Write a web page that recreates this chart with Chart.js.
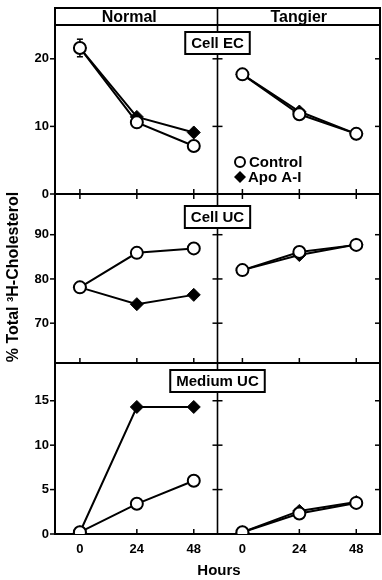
<!DOCTYPE html>
<html>
<head>
<meta charset="utf-8">
<script src="https://cdn.jsdelivr.net/npm/chart.js@4"></script>
<style>
  html, body { margin: 0; padding: 0; background: #fff; }
  canvas { display: block; }
</style>
</head>
<body>
<canvas id="chart" width="382" height="580"></canvas>
<script>
// Time points (hours) and axis ticks.
const hours = [0, 24, 48];
const groups = ['Normal', 'Tangier'];
const panelNames = ['Cell EC', 'Cell UC', 'Medium UC'];
const seriesNames = ['Control', 'Apo A-I'];
const ecTicks = [0, 10, 20];
const ucTicks = [70, 80, 90];
const mediumTicks = [0, 5, 10, 15];

// % of total 3H-cholesterol per compartment.
const ecNormalControl = [21.6, 10.6, 7.1];
const ecNormalControlErr = [1.3, 0, 0];
const ecNormalApo = [21.6, 11.4, 9.1];
const ecTangierControl = [17.7, 11.8, 8.9];
const ecTangierApo = [17.7, 12.2, 8.9];

const ucNormalControl = [78.1, 85.9, 86.9];
const ucNormalApo = [78.1, 74.3, 76.4];
const ucTangierControl = [82.0, 86.1, 87.7];
const ucTangierApo = [82.0, 85.4, 87.8];

const mediumNormalControl = [0.2, 3.4, 6.0];
const mediumNormalApo = [0.2, 14.3, 14.3];
const mediumTangierControl = [0.2, 2.3, 3.5];
const mediumTangierApo = [0.2, 2.6, 3.6];

const FONT = '"Liberation Sans", Arial, sans-serif';
const FRAME_TOP = 8;
const FRAME_RIGHT = 380;

const panels = [
  { axis: 'yEc', ticks: ecTicks, normal: [ecNormalControl, ecNormalApo], tangier: [ecTangierControl, ecTangierApo] },
  { axis: 'yUc', ticks: ucTicks, normal: [ucNormalControl, ucNormalApo], tangier: [ucTangierControl, ucTangierApo] },
  { axis: 'yMed', ticks: mediumTicks, normal: [mediumNormalControl, mediumNormalApo], tangier: [mediumTangierControl, mediumTangierApo] },
];

const pts = vals => hours.map((h, i) => ({ x: h, y: vals[i] }));

function makeDataset(vals, s, xAxisID, yAxisID) {
  const control = s === 0;
  return {
    label: seriesNames[s],
    data: pts(vals),
    xAxisID, yAxisID,
    order: control ? 0 : 1,
    borderColor: '#000',
    borderWidth: 2,
    backgroundColor: control ? '#fff' : '#000',
    pointBackgroundColor: control ? '#fff' : '#000',
    pointBorderColor: '#000',
    pointBorderWidth: control ? 2 : 1,
    pointStyle: control ? 'circle' : 'rectRot',
    pointRadius: control ? 6 : 6.5,
    tension: 0,
  };
}

const datasets = [];
panels.forEach(p => {
  [0, 1].forEach(s => {
    datasets.push(makeDataset(p.normal[s], s, 'xNormal', p.axis));
    datasets.push(makeDataset(p.tangier[s], s, 'xTangier', p.axis));
  });
});

const xAxis = () => ({
  type: 'linear',
  position: 'bottom',
  stack: 'cols',
  stackWeight: 1,
  min: -10.5,
  max: 58,
  grid: { display: false, drawTicks: false },
  border: { display: false },
  ticks: { color: '#000', padding: 8, font: { family: FONT, size: 13, weight: 'bold' }, maxRotation: 0, autoSkip: false },
  afterBuildTicks: s => { s.ticks = hours.map(v => ({ value: v })); },
  afterFit: s => { s.height = 46; s.paddingLeft = 0; s.paddingRight = 0; },
});

const yAxis = (min, max, weight, ticks) => ({
  type: 'linear',
  position: 'left',
  stack: 'rows',
  stackWeight: weight,
  min, max,
  grid: { display: false, drawTicks: false },
  border: { display: false },
  ticks: { color: '#000', padding: 6, font: { family: FONT, size: 13, weight: 'bold' }, autoSkip: false },
  afterBuildTicks: s => { s.ticks = ticks.map(v => ({ value: v })); },
  afterFit: s => { s.width = 55; s.paddingTop = 0; s.paddingBottom = 0; },
});

function line(ctx, x1, y1, x2, y2) {
  ctx.beginPath();
  ctx.moveTo(x1, y1);
  ctx.lineTo(x2, y2);
  ctx.stroke();
}

// Frame, panel dividers, tick marks and the error bar go under the data.
const framePlugin = {
  id: 'frame',
  beforeDatasetsDraw(chart) {
    const { ctx, chartArea: a, scales } = chart;
    const mid = scales.xNormal.right;
    ctx.save();
    ctx.strokeStyle = '#000';
    ctx.lineWidth = 2;
    ctx.strokeRect(a.left, FRAME_TOP, a.right - a.left, a.bottom - FRAME_TOP);
    line(ctx, a.left, a.top, a.right, a.top);
    line(ctx, a.left, scales.yEc.bottom, a.right, scales.yEc.bottom);
    line(ctx, a.left, scales.yUc.bottom, a.right, scales.yUc.bottom);
    ctx.lineWidth = 1.6;
    line(ctx, mid, FRAME_TOP, mid, a.bottom);

    ctx.lineWidth = 1.5;
    panels.forEach(p => {
      const ys = scales[p.axis];
      p.ticks.forEach(v => {
        const y = ys.getPixelForValue(v);
        line(ctx, a.left - 5, y, a.left, y);
        line(ctx, mid - 5, y, mid + 5, y);
        line(ctx, a.right - 5, y, a.right, y);
      });
      ['xNormal', 'xTangier'].forEach(id => {
        const xs = scales[id];
        hours.forEach(h => {
          const x = xs.getPixelForValue(h);
          line(ctx, x, ys.bottom - 5, x, p.axis === 'yEc' ? ys.bottom + 5 : ys.bottom);
        });
      });
    });

    // error bars on the normal-cell EC control
    const xs = scales.xNormal, ys = scales.yEc;
    ctx.lineWidth = 1.5;
    ecNormalControlErr.forEach((e, i) => {
      if (!e) return;
      const x = xs.getPixelForValue(hours[i]);
      const y1 = ys.getPixelForValue(ecNormalControl[i] - e);
      const y2 = ys.getPixelForValue(ecNormalControl[i] + e);
      line(ctx, x, y1, x, y2);
      line(ctx, x - 3, y1, x + 3, y1);
      line(ctx, x - 3, y2, x + 3, y2);
    });
    ctx.restore();
  },
  afterDatasetsDraw(chart) {
    const { ctx, chartArea: a, scales } = chart;
    const mid = scales.xNormal.right;
    ctx.save();
    ctx.fillStyle = '#000';
    ctx.strokeStyle = '#000';
    ctx.textBaseline = 'middle';
    ctx.textAlign = 'center';

    // column headers
    ctx.font = `bold 16px ${FONT}`;
    const hy = (FRAME_TOP + a.top) / 2 + 1;
    ctx.fillText(groups[0], (scales.xNormal.left + scales.xNormal.right) / 2 - 7, hy);
    ctx.fillText(groups[1], (scales.xTangier.left + scales.xTangier.right) / 2, hy);

    // boxed panel names straddling the divider
    ctx.font = `bold 15px ${FONT}`;
    const boxOffsets = [7, 12, 7];
    panels.forEach((p, i) => {
      const ys = scales[p.axis];
      const w = ctx.measureText(panelNames[i]).width + 12;
      const h = 22;
      const top = ys.top + boxOffsets[i];
      ctx.fillStyle = '#fff';
      ctx.fillRect(mid - w / 2, top, w, h);
      ctx.lineWidth = 2;
      ctx.strokeRect(mid - w / 2, top, w, h);
      ctx.fillStyle = '#000';
      ctx.fillText(panelNames[i], mid, top + h / 2 + 1);
    });

    // legend
    ctx.textAlign = 'left';
    const lx = 240, ly = [162, 177];
    ctx.beginPath();
    ctx.arc(lx, ly[0], 5, 0, Math.PI * 2);
    ctx.fillStyle = '#fff';
    ctx.fill();
    ctx.lineWidth = 2;
    ctx.stroke();
    ctx.fillStyle = '#000';
    ctx.beginPath();
    ctx.moveTo(lx, ly[1] - 6);
    ctx.lineTo(lx + 6, ly[1]);
    ctx.lineTo(lx, ly[1] + 6);
    ctx.lineTo(lx - 6, ly[1]);
    ctx.closePath();
    ctx.fill();
    ctx.fillText(seriesNames[0], lx + 9, ly[0] + 1);
    ctx.fillText(seriesNames[1], lx + 8, ly[1] + 1);

    // axis titles
    ctx.textAlign = 'center';
    ctx.fillText('Hours', 219, 571);
    ctx.font = `bold 16px ${FONT}`;
    ctx.translate(14, 277);
    ctx.rotate(-Math.PI / 2);
    ctx.fillText('% Total ³H-Cholesterol', 0, 0);
    ctx.restore();
  },
};

// Pin the plot area so both columns reach the right frame edge.
const pinArea = {
  id: 'pinArea',
  afterLayout(chart) {
    const extra = FRAME_RIGHT - chart.chartArea.right;
    if (!extra) return;
    const left = chart.scales.xNormal, right = chart.scales.xTangier;
    const total = right.right + extra - left.left;
    const half = total / 2;
    left.right = left.left + half; left.width = half;
    right.left = left.right; right.right = FRAME_RIGHT; right.width = half;
    chart.chartArea.right = FRAME_RIGHT;
    chart.chartArea.width = chart.chartArea.right - chart.chartArea.left;
    [left, right].forEach(s => s.configure());
  },
};

new Chart(document.getElementById('chart'), {
  type: 'line',
  data: { datasets },
  options: {
    responsive: false,
    animation: false,
    devicePixelRatio: 1,
    layout: { padding: { top: 25, right: 2, left: 0, bottom: 0 } },
    plugins: { legend: { display: false }, tooltip: { enabled: false } },
    scales: {
      xNormal: xAxis(),
      xTangier: xAxis(),
      yMed: yAxis(0, 19.25, 171, mediumTicks),
      yUc: yAxis(61, 99.2, 169, ucTicks),
      yEc: yAxis(0, 25, 169, ecTicks),
    },
  },
  plugins: [framePlugin, pinArea],
});
</script>
</body>
</html>
